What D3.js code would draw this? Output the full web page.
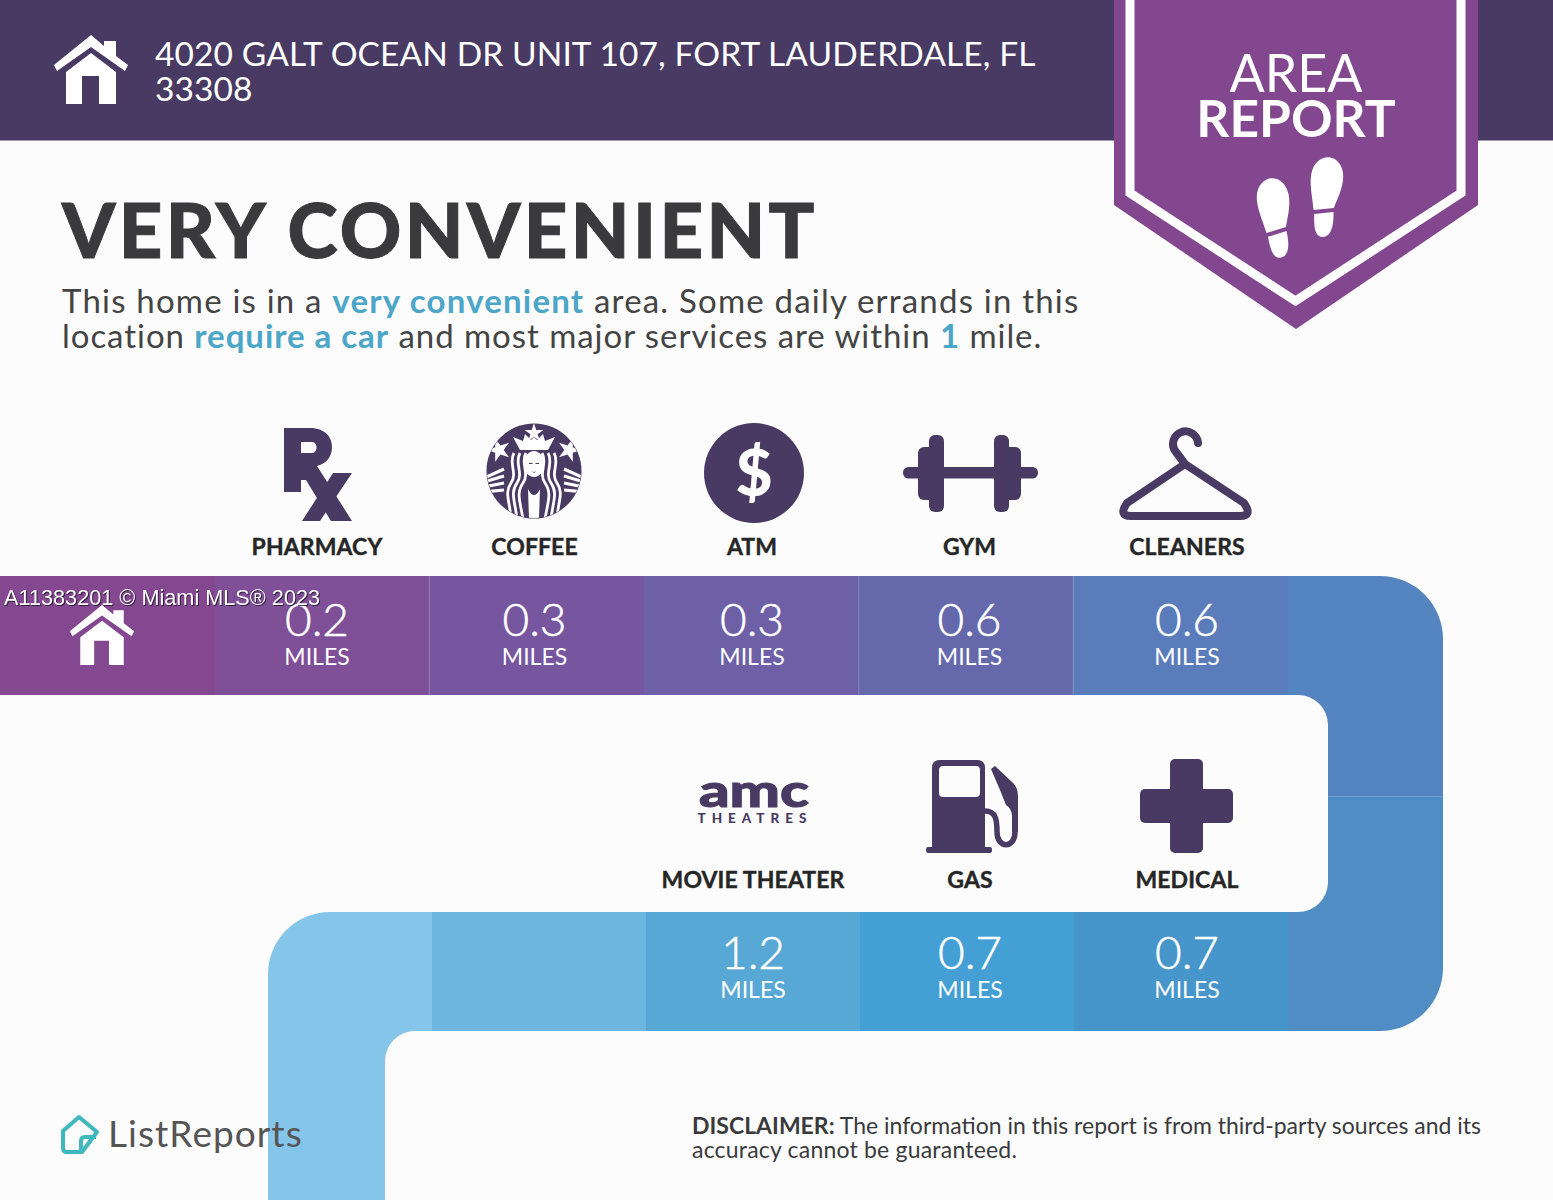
<!DOCTYPE html>
<html>
<head>
<meta charset="utf-8">
<script src="https://cdnjs.cloudflare.com/ajax/libs/d3/7.8.5/d3.min.js"></script>
<style>
  html, body { margin: 0; padding: 0; background: #fcfcfc; }
  svg { display: block; }
  text { font-family: Lato, "Open Sans", sans-serif; }
</style>
</head>
<body>
<div id="chart"></div>
<script>
// Chart data
var topStops = ["PHARMACY", "COFFEE", "ATM", "GYM", "CLEANERS"];
var topMiles = [0.2, 0.3, 0.3, 0.6, 0.6];
var bottomStops = ["MOVIE THEATER", "GAS", "MEDICAL"];
var bottomMiles = [1.2, 0.7, 0.7];

var addressLines = ["4020 GALT OCEAN DR UNIT 107, FORT LAUDERDALE, FL", "33308"];

// colours for the route pieces, left to right
var topColors = ["#83488f", "#7f4f98", "#76569f", "#6d60a6", "#6569ac", "#5b7cbb"];
var bottomColors = ["#6cb6e0", "#58a8d6", "#44a0d4", "#4796cb"];

var purple = "#483a62";
var badge = "#83478f";
var W = 1553, H = 1200;

var svg = d3.select("#chart").append("svg").attr("width", W).attr("height", H);
svg.append("rect").attr("width", W).attr("height", H).attr("fill", "#fcfcfc");

// ---- header
svg.append("rect").attr("width", W).attr("height", 140.5).attr("fill", purple);

var housePath = "M-37,-5 L0,-35 L13,-24 L13,-29 L25,-29 L25,-14 L37,-5 L34,1 L0,-23 L-34,1 Z " +
  "M0,-17 L25,2 L25,34 L8,34 L8,6 L-9,6 L-9,34 L-25,34 L-25,2 Z";

svg.append("path").attr("d", housePath).attr("fill", "#fff").attr("transform", "translate(91,70)");

svg.selectAll(".addr").data(addressLines).enter().append("text")
  .attr("class", "addr")
  .attr("x", 155)
  .attr("y", (d, i) => 66 + i * 35)
  .attr("fill", "#fff")
  .attr("font-size", 33.5)
  .attr("letter-spacing", 0.1)
  .text(d => d);

// ---- badge
svg.append("path").attr("d", "M1114,0 L1114,205 L1296,329 L1478,205 L1478,0 Z").attr("fill", badge);
svg.append("path").attr("d", "M1130,0 L1130,193 L1295.5,301 L1461,193 L1461,0")
  .attr("fill", "none").attr("stroke", "#fff").attr("stroke-width", 9);

svg.append("text").attr("x", 1296).attr("y", 91.5).attr("text-anchor", "middle")
  .attr("fill", "#fff").attr("font-size", 52).text("AREA");
svg.append("text").attr("x", 1296).attr("y", 137).attr("text-anchor", "middle")
  .attr("fill", "#fff").attr("font-size", 51.5).attr("font-weight", 700).text("REPORT");

var shoe = "M-10,14 C-13,0 -17,-12 -16,-22 C-15,-34 -7,-40 0,-40 C8,-40 15,-33 16,-22 C17,-10 12,2 10,10 Z " +
  "M-9,18 L10,14 C12,28 10,40 1,40 C-7,40 -8,28 -9,18 Z";
svg.append("path").attr("d", shoe).attr("fill", "#fff").attr("transform", "translate(1275,218) rotate(-6)");
svg.append("path").attr("d", shoe).attr("fill", "#fff").attr("transform", "translate(1325,197) rotate(6)");

// ---- heading
svg.append("text").attr("x", 62).attr("y", 258)
  .attr("fill", "#3a3a3c").attr("stroke", "#3a3a3c").attr("stroke-width", 1)
  .attr("font-size", 76).attr("font-weight", 900).attr("letter-spacing", 3.4)
  .text("VERY CONVENIENT");

var intro = svg.append("g").attr("font-size", 33).attr("fill", "#444");
var line1 = intro.append("text").attr("x", 62).attr("y", 313).attr("letter-spacing", 1.2);
line1.append("tspan").text("This home is in a ");
line1.append("tspan").attr("font-weight", 700).attr("fill", "#4ba6c8").text("very convenient");
line1.append("tspan").text(" area. Some daily errands in this");
var line2 = intro.append("text").attr("x", 62).attr("y", 348).attr("letter-spacing", 0.95);
line2.append("tspan").text("location ");
line2.append("tspan").attr("font-weight", 700).attr("fill", "#4ba6c8").text("require a car");
line2.append("tspan").text(" and most major services are within ");
line2.append("tspan").attr("font-weight", 700).attr("fill", "#4ba6c8").text("1");
line2.append("tspan").text(" mile.");

// ---- route
var topBand = d3.scaleBand().domain(["home"].concat(topStops)).range([0, 1288]);
var bottomBand = d3.scaleBand().domain(["blank"].concat(bottomStops)).range([432, 1288]);

var topY = 576, topBottom = 695, lowY = 912, lowBottom = 1031;

topBand.domain().forEach(function(d, i) {
  svg.append("rect").attr("x", topBand(d)).attr("y", topY)
    .attr("width", topBand.bandwidth() + 0.5).attr("height", topBottom - topY)
    .attr("fill", topColors[i]);
});
bottomBand.domain().forEach(function(d, i) {
  svg.append("rect").attr("x", bottomBand(d)).attr("y", lowY)
    .attr("width", bottomBand.bandwidth() + 0.5).attr("height", lowBottom - lowY)
    .attr("fill", bottomColors[i]);
});

// right hand turn, two pieces with the seam at y=796
svg.append("path").attr("fill", "#5485c0")
  .attr("d", "M1288,576 H1380 A63,63 0 0 1 1443,639 V796.5 H1328 V725 A30,30 0 0 0 1298,695 H1288 Z");
svg.append("path").attr("fill", "#4f8dc4")
  .attr("d", "M1328,796 H1443 V968 A63,63 0 0 1 1380,1031 H1288 V912 H1298 A30,30 0 0 0 1328,882 Z");
svg.append("rect").attr("x", 1328).attr("y", 796).attr("width", 115).attr("height", 1).attr("fill", "#6a9fd0");

// left hand turn, runs off the bottom of the page
svg.append("path").attr("fill", "#85c5e9")
  .attr("d", "M432,912 H330 A62,62 0 0 0 268,974 V1200 H385 V1061 A30,30 0 0 1 415,1031 H432 Z");

// light seams between some of the pieces
[429.3, 858.7, 1073.3].forEach(function(x) {
  svg.append("rect").attr("x", x - 0.5).attr("y", topY).attr("width", 1).attr("height", topBottom - topY)
    .attr("fill", "#fff").attr("opacity", 0.2);
});

svg.append("path").attr("d", housePath).attr("fill", "#fff").attr("transform", "translate(102,635.5) scale(0.87)");

// ---- stops: labels and distances
var xTop = d3.scalePoint().domain(topStops).range([317, 1187]);
var xBottom = d3.scalePoint().domain(bottomStops).range([753, 1187]);

function drawRow(stops, miles, x, labelY, valueY) {
  var g = svg.append("g").selectAll("g").data(stops).enter().append("g")
    .attr("transform", d => "translate(" + x(d) + ",0)")
    .attr("text-anchor", "middle");
  g.append("text").attr("y", labelY).attr("fill", "#262626").attr("stroke", "#262626").attr("stroke-width", 0.4)
    .attr("font-size", 23).attr("font-weight", 700).attr("letter-spacing", 0.1).text(d => d);
  g.append("text").attr("y", valueY).attr("fill", "#fff").attr("stroke", "#fff").attr("stroke-width", 0.5)
    .attr("font-size", 46).attr("font-weight", 300).text((d, i) => miles[i].toFixed(1));
  g.append("text").attr("y", valueY + 29).attr("fill", "#fff")
    .attr("font-size", 23).attr("font-weight", 400).text("MILES");
}
drawRow(topStops, topMiles, xTop, 555, 636);
drawRow(bottomStops, bottomMiles, xBottom, 888, 969);

// ---- icons
var icons = svg.append("g").attr("fill", purple);

// Rx
icons.append("path").attr("fill-rule", "evenodd").attr("d",
  "M284,428 H310 C325,428 332,437 332,447 C332,458 325,464 317,466 L352,521 H331 L306,480 L301,480 L301,492 H284 Z " +
  "M301,442 H312 C318,442 318,453 312,453 H301 Z");
icons.append("path").attr("d", "M333,473 H352 L320,521 H302 Z");

// coffee logo
var logo = svg.append("g").attr("transform", "translate(534,471)");
logo.append("clipPath").attr("id", "logoClip").append("circle").attr("r", 47);
logo.append("circle").attr("r", 47.5).attr("fill", purple);
var inner = logo.append("g").attr("clip-path", "url(#logoClip)");
var bigStar = d3.symbol().type(d3.symbolStar).size(170)();
[-1, 1].forEach(function(s) {
  var side = inner.append("g").attr("transform", "scale(" + s + ",1)");
  [10, 16, 22].forEach(function(x, i) {
    side.append("path").attr("fill", "none").attr("stroke", "#fff").attr("stroke-width", 2.8)
      .attr("d", "M" + (x - 2) + ",-18 C" + (x + 4) + ",-8 " + (x - 6) + ",2 " + (x + 1) + ",12 S" + (x + 4 - i) + ",30 " + (x + 1) + ",48");
  });
  [[-2, 7], [5, 11], [12, 16], [19, 21]].forEach(function(b) {
    side.append("path").attr("fill", "none").attr("stroke", "#fff").attr("stroke-width", 3.2)
      .attr("d", "M30," + b[0] + " L50," + b[1]);
  });
  side.append("path").attr("fill", "#fff").attr("d", bigStar).attr("transform", "translate(35,-21) rotate(18)");
});
inner.append("path").attr("fill", "#fff").attr("d", "M-21,-34 L-11,-30 L-9,-37 L-3,-31 L0,-34 L3,-31 L9,-37 L11,-30 L21,-34 L14,-21 L-14,-21 Z");
inner.append("path").attr("fill", "#fff").attr("d", d3.symbol().type(d3.symbolStar).size(110)()).attr("transform", "translate(0,-38)");
inner.append("ellipse").attr("cy", -7).attr("rx", 10).attr("ry", 13).attr("fill", "#fff");
inner.append("path").attr("fill", purple).attr("d", "M-5,-8 h3.5 v1 h-3.5 Z M1.5,-8 h3.5 v1 h-3.5 Z M-2.5,0 Q0,2 2.5,0 Q0,3.5 -2.5,0 Z");
inner.append("path").attr("fill", "#fff").attr("d", "M-6,18 Q0,30 6,18 L5,48 H-5 Z");

// ATM
icons.append("circle").attr("cx", 754).attr("cy", 473).attr("r", 50);
svg.append("text").attr("x", 754).attr("y", 496).attr("text-anchor", "middle").attr("fill", "#fff")
  .attr("font-size", 64).attr("font-weight", 900).text("$");

// dumbbell
var dumb = icons.append("g");
dumb.append("rect").attr("x", 903).attr("y", 467).attr("width", 135).attr("height", 11.5).attr("rx", 5.5);
[[918, 447, 18, 53], [929, 435, 15, 77], [994, 435, 15, 77], [1003, 447, 18, 53]].forEach(function(r) {
  dumb.append("rect").attr("x", r[0]).attr("y", r[1]).attr("width", r[2]).attr("height", r[3]).attr("rx", 6);
});

// hanger
svg.append("path").attr("fill", "none").attr("stroke", purple).attr("stroke-width", 8).attr("stroke-linecap", "round")
  .attr("stroke-linejoin", "round")
  .attr("d", "M1198,443 A12.5,12.5 0 1 0 1176,452 L1185,464 L1127,503 Q1118,516 1131,516 H1240 Q1253,516 1244,503 L1185,464");

// AMC
svg.append("text").attr("x", 754).attr("y", 807).attr("text-anchor", "middle").attr("fill", purple)
  .attr("stroke", purple).attr("stroke-width", 1)
  .attr("font-size", 46).attr("font-weight", 900).attr("textLength", 110).attr("lengthAdjust", "spacingAndGlyphs").text("amc");
svg.append("text").attr("x", 755).attr("y", 823).attr("text-anchor", "middle").attr("fill", purple)
  .attr("font-size", 13.5).attr("font-weight", 900).attr("letter-spacing", 6).text("THEATRES");

// gas pump
icons.append("path").attr("fill-rule", "evenodd").attr("d",
  "M940,760 H977 Q985,760 985,768 V847 H990 Q992,847 992,850 Q992,853 990,853 H928 Q926,853 926,850 Q926,847 928,847 H932 V768 Q932,760 940,760 Z " +
  "M943,766 H976 Q980,766 980,770 V793 Q980,797 976,797 H943 Q939,797 939,793 V770 Q939,766 943,766 Z");
svg.append("path").attr("fill", "none").attr("stroke", purple).attr("stroke-width", 5.5)
  .attr("d", "M985,811 C996,811 997,820 997,832 C997,849 1015,849 1015,832 V800");
icons.append("path").attr("d", "M991,769 L995,766 L1013,783 Q1018,788 1018,796 V832 H1012 V815 Q1011,808 1006,805 L1000,790 Z");

// medical cross
icons.append("rect").attr("x", 1170).attr("y", 759).attr("width", 33).attr("height", 94).attr("rx", 5);
icons.append("rect").attr("x", 1140).attr("y", 789).attr("width", 93).attr("height", 34).attr("rx", 5);

// ---- footer
svg.append("path").attr("fill", "none").attr("stroke", "#3fb7bd").attr("stroke-width", 4).attr("stroke-linejoin", "round")
  .attr("d", "M63,1131 L79,1117 L97,1132 L82,1152 H67 Q63,1152 63,1148 Z M96,1137 H85 Q81,1137 81,1141 V1151");
svg.append("text").attr("x", 108).attr("y", 1147).attr("fill", "#555")
  .attr("font-size", 37).attr("font-weight", 400).attr("letter-spacing", 1.05).text("ListReports");

var disc = svg.append("g").attr("font-size", 23).attr("fill", "#3a3a3c");
var d1 = disc.append("text").attr("x", 692).attr("y", 1134);
d1.append("tspan").attr("font-weight", 700).text("DISCLAIMER:");
d1.append("tspan").text(" The information in this report is from third-party sources and its");
disc.append("text").attr("x", 692).attr("y", 1158).attr("letter-spacing", 0.2).text("accuracy cannot be guaranteed.");

// ---- watermark
svg.append("text").attr("x", 4).attr("y", 605).attr("fill", "#fff")
  .style("font-family", "'Liberation Sans', Arial, sans-serif").attr("font-size", 21.7)
  .style("filter", "drop-shadow(1px 1px 0 rgba(30,20,40,0.8))")
  .text("A11383201 © Miami MLS® 2023");
</script>
</body>
</html>
